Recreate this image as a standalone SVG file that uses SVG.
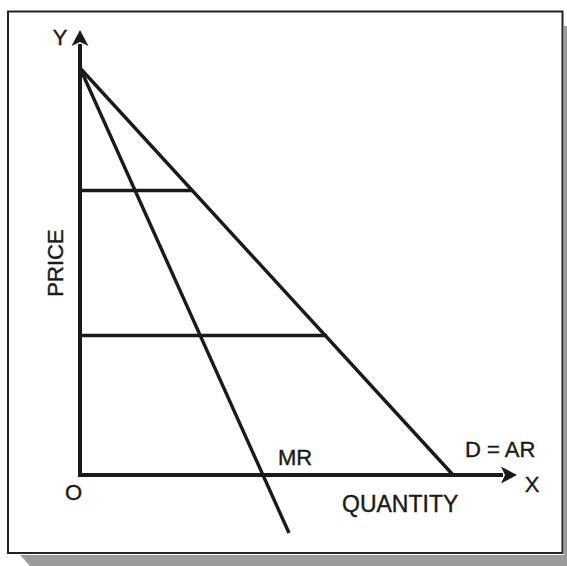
<svg xmlns="http://www.w3.org/2000/svg" width="567" height="566" viewBox="0 0 567 566">
<style>
.lbl{font-family:"Liberation Sans",Arial,sans-serif;font-size:22px;fill:#1a1a1a;stroke:#1a1a1a;stroke-width:0.4}
.ax{stroke:#1a1a1a;stroke-width:4;fill:none}
.ln{stroke:#1a1a1a;stroke-width:3.4;fill:none}
</style>
<defs>
<marker id="ah" markerWidth="10" markerHeight="10" refX="0" refY="0" viewBox="-1 -5 10 10" markerUnits="userSpaceOnUse" orient="auto" overflow="visible">
<path d="M-2,-8.5 L14,0 L-2,8.5 L2,0 Z" fill="#1a1a1a"/>
</marker>
</defs>
<rect x="0" y="0" width="567" height="566" fill="#fff"/>
<g id="shadow" fill="#9a9a9a">
<polygon points="20,555 567,555 567,566 30,566"/>
<rect x="564" y="26" width="3" height="540"/>
</g>
<rect id="frame" x="8" y="11.5" width="554.5" height="541.5" fill="#fff" stroke="#222" stroke-width="2"/>
<g id="connectors">
<line id="y-axis" class="ax" x1="80" y1="477" x2="80" y2="44" marker-end="url(#ah)"/>
<line id="x-axis" class="ax" x1="78" y1="475" x2="503" y2="475" marker-end="url(#ah)"/>
<line id="demand" class="ln" x1="80" y1="68" x2="454" y2="476"/>
<line id="mr" class="ln" x1="80" y1="68" x2="289" y2="533"/>
<line id="h1" class="ln" x1="80" y1="190.5" x2="193" y2="190.5"/>
<line id="h2" class="ln" x1="80" y1="335.5" x2="327" y2="335.5"/>
</g>
<g id="label-y"><text class="lbl" x="60" y="45" text-anchor="middle">Y</text></g>
<g id="label-x"><text class="lbl" x="532" y="492" text-anchor="middle">X</text></g>
<g id="label-o"><text class="lbl" x="73.5" y="500" text-anchor="middle">O</text></g>
<g id="label-dar"><text class="lbl" x="465" y="457">D = AR</text></g>
<g id="label-mr"><text class="lbl" x="278" y="465">MR</text></g>
<g id="label-quantity"><text class="lbl" x="342" y="512" style="font-size:23px">QUANTITY</text></g>
<g id="label-price"><text class="lbl" transform="translate(63,263) rotate(-90)" text-anchor="middle">PRICE</text></g>
</svg>
